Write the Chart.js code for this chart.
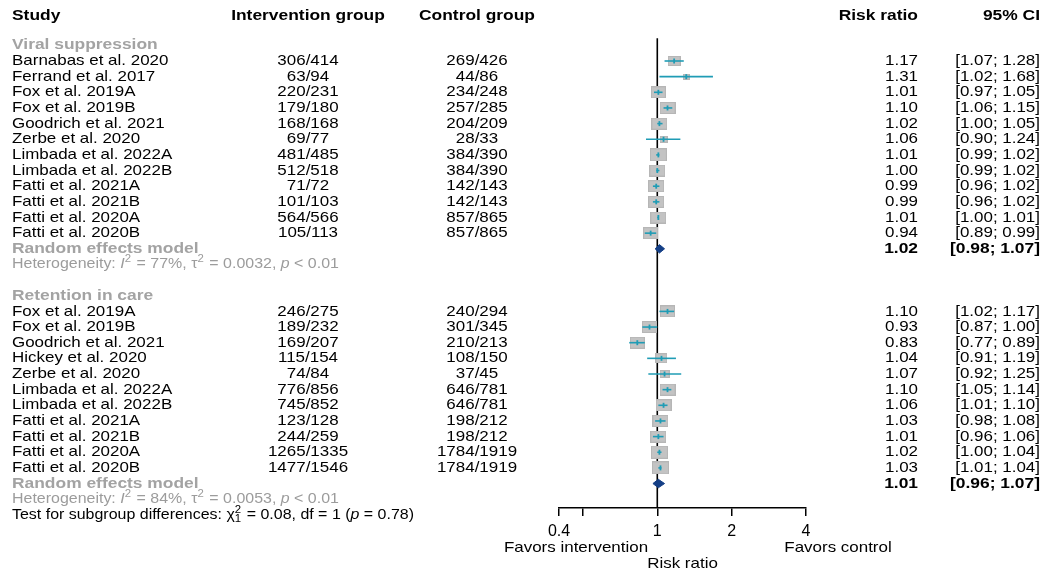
<!DOCTYPE html>
<html><head><meta charset="utf-8">
<script src="https://cdn.jsdelivr.net/npm/chart.js@4.4.0/dist/chart.umd.min.js"></script>
<style>html,body{margin:0;padding:0;background:#fff;}#wrap{position:relative;width:1050px;height:579px;}</style>
</head><body><div id="wrap"><canvas id="c" width="1050" height="579"></canvas></div>
<script>
// ---------- DATA ----------
const vsStudies = ['Barnabas et al. 2020','Ferrand et al. 2017','Fox et al. 2019A','Fox et al. 2019B','Goodrich et al. 2021','Zerbe et al. 2020','Limbada et al. 2022A','Limbada et al. 2022B','Fatti et al. 2021A','Fatti et al. 2021B','Fatti et al. 2020A','Fatti et al. 2020B'];
const vsIntEvents = [306,63,220,179,168,69,481,512,71,101,564,105];
const vsIntTotal  = [414,94,231,180,168,77,485,518,72,103,566,113];
const vsCtlEvents = [269,44,234,257,204,28,384,384,142,142,857,857];
const vsCtlTotal  = [426,86,248,285,209,33,390,390,143,143,865,865];
const vsRR = [1.17,1.31,1.01,1.10,1.02,1.06,1.01,1.00,0.99,0.99,1.01,0.94];
const vsLo = [1.07,1.02,0.97,1.06,1.00,0.90,0.99,0.99,0.96,0.96,1.00,0.89];
const vsHi = [1.28,1.68,1.05,1.15,1.05,1.24,1.02,1.02,1.02,1.02,1.01,0.99];
const vsWeight = [6.6,1.9,8.8,10,10,2.5,11.3,10,10,10,10,8.8];
const vsSummary = [1.02,0.98,1.07];
const vsHet = ['77%','0.0032','< 0.01'];

const rcStudies = ['Fox et al. 2019A','Fox et al. 2019B','Goodrich et al. 2021','Hickey et al. 2020','Zerbe et al. 2020','Limbada et al. 2022A','Limbada et al. 2022B','Fatti et al. 2021A','Fatti et al. 2021B','Fatti et al. 2020A','Fatti et al. 2020B'];
const rcIntEvents = [246,189,169,115,74,776,745,123,244,1265,1477];
const rcIntTotal  = [275,232,207,154,84,856,852,128,259,1335,1546];
const rcCtlEvents = [240,301,210,108,37,646,646,198,198,1784,1784];
const rcCtlTotal  = [294,345,213,150,45,781,781,212,212,1919,1919];
const rcRR = [1.10,0.93,0.83,1.04,1.07,1.10,1.06,1.03,1.01,1.02,1.03];
const rcLo = [1.02,0.87,0.77,0.91,0.92,1.05,1.01,0.98,0.96,1.00,1.01];
const rcHi = [1.17,1.00,0.89,1.19,1.25,1.14,1.10,1.08,1.06,1.04,1.04];
const rcWeight = [8.8,8.8,8.8,5.6,3.9,10,10,10,10,11.3,11.3];
const rcSummary = [1.01,0.96,1.07];
const rcHet = ['84%','0.0053','< 0.01'];

const subgroupTest = ['0.08','1','0.78'];
const xTicks = [0.4,0.5,1,2,4];
const xTickLabels = ['0.4','','1','2','4'];
const groupNames = ['Viral suppression','Retention in care'];
const headers = ['Study','Intervention group','Control group','Risk ratio','95% CI'];

// ---------- LAYOUT ----------
const vsRow0 = 0, rcRow0 = 16;
const rowsVS = vsStudies.map((_, i) => vsRow0 + i);
const rowsRC = rcStudies.map((_, i) => rcRow0 + i);
const vsRE = 12, vsHetRow = 13, rcHead = 15, rcRE = 27, rcHetRow = 28, testRow = 29;
const ROW0_PX = 61, ROW_H = 15.65;

const TEAL = '#1f9cb5', BOX = '#c3c3c3', NAVY = '#143f86', GREY = '#a3a3a3';
const FONT = '"Liberation Sans", Arial, Helvetica, sans-serif';
const SX = 1.13, SXB = 1.16;

function boxCanvas(w) {
  const bw = Math.round(16 * Math.sqrt(w / 10));
  const bh = Math.round(bw * 0.68 + 1.5);
  const c = document.createElement('canvas');
  c.width = bw; c.height = bh;
  const g = c.getContext('2d');
  g.fillStyle = BOX; g.fillRect(0, 0, bw, bh);
  g.strokeStyle = '#b6b6b6'; g.lineWidth = 1; g.strokeRect(0.5, 0.5, bw - 1, bh - 1);
  return c;
}

const allRR = vsRR.concat(rcRR), allLo = vsLo.concat(rcLo), allHi = vsHi.concat(rcHi);
const allRows = rowsVS.concat(rowsRC), allW = vsWeight.concat(rcWeight);

const datasets = [];
datasets.push({data:[{x:1,y:-1.45},{x:1,y:28.56}], showLine:true, borderColor:'#000', borderWidth:1.6, pointRadius:0, order:5});
datasets.push({data: allRR.map((v,i)=>({x:v,y:allRows[i]})), pointStyle: allW.map(boxCanvas), pointRadius:5, order:4});
allRR.forEach((v,i)=>{
  datasets.push({data:[{x:allLo[i],y:allRows[i]},{x:allHi[i],y:allRows[i]}], showLine:true, borderColor:TEAL, borderWidth:1.6, pointRadius:0, order:3});
});
datasets.push({data: allRR.map((v,i)=>({x:v,y:allRows[i]})), pointStyle:'line', rotation:90, pointRadius:2.5, borderColor:TEAL, borderWidth:1.8, order:2});
[[vsSummary,vsRE],[rcSummary,rcRE]].forEach(([s,r])=>{
  const h = 0.27;
  datasets.push({data:[{x:s[1],y:r},{x:s[0],y:r-h},{x:s[2],y:r},{x:s[0],y:r+h},{x:s[1],y:r}], showLine:true, fill:'shape', backgroundColor:NAVY, borderColor:NAVY, borderWidth:1, pointRadius:0, order:1});
});

function txt(ctx, s, x, y, font, color, align, sx) {
  sx = sx || (font.indexOf('bold') >= 0 ? SXB : SX);
  ctx.font = font; ctx.fillStyle = color; ctx.textAlign = 'left'; ctx.textBaseline = 'middle';
  const w = ctx.measureText(s).width * sx;
  let x0 = x;
  if (align === 'center') x0 = x - w / 2; else if (align === 'right') x0 = x - w;
  ctx.save(); ctx.translate(x0, y); ctx.scale(sx, 1); ctx.fillText(s, 0, 0); ctx.restore();
}
function runs(ctx, x, y, parts, color, size, sx) {
  ctx.save(); ctx.translate(x, y); ctx.scale(sx, 1);
  ctx.textBaseline = 'middle'; ctx.textAlign = 'left'; ctx.fillStyle = color;
  let cx = 0;
  for (const p of parts) {
    const [s, kind] = p;
    if (kind === 'sup' || kind === 'supsub') {
      ctx.font = `${Math.round(size*0.7)}px ${FONT}`;
      if (kind === 'supsub') {
        ctx.fillText(s[0], cx, -size*0.36);
        ctx.fillText(s[1], cx, size*0.32);
        cx += ctx.measureText(s[0]).width + 1;
      } else {
        ctx.fillText(s, cx, -size*0.36);
        cx += ctx.measureText(s).width + 1;
      }
    } else {
      ctx.font = `${kind === 'i' ? 'italic ' : ''}${size}px ${FONT}`;
      ctx.fillText(s, cx, 0);
      cx += ctx.measureText(s).width;
    }
  }
  ctx.restore();
}

// keeps row 0 at a fixed pixel with a fixed row height, whatever the chart area
const rowFitPlugin = {
  id: 'rowFit',
  afterLayout(chart) {
    const s = chart.scales.y;
    s.min = -(ROW0_PX - s.top) / ROW_H;
    s.max = (s.bottom - ROW0_PX) / ROW_H;
    s.configure();
  }
};

const textPlugin = {
  id: 'forestText',
  afterDraw(chart) {
    const ctx = chart.ctx, ys = chart.scales.y, xs = chart.scales.x;
    const Y = r => ys.getPixelForValue(r);
    const F = `15px ${FONT}`, FB = `bold 15px ${FONT}`;
    const cStudy = 12, cInt = 308, cCtl = 477, cRR = 918, cCI = 1040;
    ctx.save();
    const hy = Y(-2.9);
    txt(ctx, headers[0], cStudy, hy, FB, '#000');
    txt(ctx, headers[1], cInt, hy, FB, '#000', 'center');
    txt(ctx, headers[2], cCtl, hy, FB, '#000', 'center');
    txt(ctx, headers[3], cRR, hy, FB, '#000', 'right');
    txt(ctx, headers[4], cCI, hy, FB, '#000', 'right');
    const groups = [
      [groupNames[0], vsRow0-1, rowsVS, vsStudies, vsIntEvents, vsIntTotal, vsCtlEvents, vsCtlTotal, vsRR, vsLo, vsHi, vsSummary, vsRE, vsHet, vsHetRow],
      [groupNames[1], rcHead, rowsRC, rcStudies, rcIntEvents, rcIntTotal, rcCtlEvents, rcCtlTotal, rcRR, rcLo, rcHi, rcSummary, rcRE, rcHet, rcHetRow]
    ];
    for (const [name, hr, rows, st, ie, it, ce, ct, rr, lo, hi, sm, rer, het, hetr] of groups) {
      txt(ctx, name, cStudy, Y(hr), FB, GREY);
      rows.forEach((r, i) => {
        const y = Y(r);
        txt(ctx, st[i], cStudy, y, F, '#000');
        txt(ctx, ie[i] + '/' + it[i], cInt, y, F, '#000', 'center');
        txt(ctx, ce[i] + '/' + ct[i], cCtl, y, F, '#000', 'center');
        txt(ctx, rr[i].toFixed(2), cRR, y, F, '#000', 'right');
        txt(ctx, '[' + lo[i].toFixed(2) + '; ' + hi[i].toFixed(2) + ']', cCI, y, F, '#000', 'right');
      });
      const y = Y(rer);
      txt(ctx, 'Random effects model', cStudy, y, FB, GREY);
      txt(ctx, sm[0].toFixed(2), cRR, y, FB, '#000', 'right');
      txt(ctx, '[' + sm[1].toFixed(2) + '; ' + sm[2].toFixed(2) + ']', cCI, y, FB, '#000', 'right');
      runs(ctx, cStudy, Y(hetr), [['Heterogeneity: ','n'],['I','i'],['2','sup'],[' = ' + het[0] + ', ','n'],['\u03c4','n'],['2','sup'],[' = ' + het[1] + ', ','n'],['p','i'],[' ' + het[2],'n']], '#9c9c9c', 14, 1.14);
    }
    runs(ctx, cStudy, Y(testRow), [['Test for subgroup differences: ','n'],['\u03c7','n'],[['2','1'],'supsub'],[' = ' + subgroupTest[0] + ', df = ' + subgroupTest[1] + ' (','n'],['p','i'],[' = ' + subgroupTest[2] + ')','n']], '#000', 14, 1.14);
    txt(ctx, 'Favors intervention', 576, 548, F, '#000', 'center');
    txt(ctx, 'Favors control', 838, 548, F, '#000', 'center');
    txt(ctx, 'Risk ratio', (xs.left + xs.right) / 2, 564, F, '#000', 'center');
    ctx.restore();
  }
};

new Chart(document.getElementById('c'), {
  type: 'scatter',
  data: { datasets },
  plugins: [rowFitPlugin, textPlugin],
  options: {
    responsive: false, animation: false,
    layout: { padding: { left: 559, right: 244, top: 0, bottom: 0 } },
    plugins: { legend: { display: false }, tooltip: { enabled: false } },
    elements: { line: { tension: 0 } },
    datasets: { scatter: { clip: false } },
    scales: {
      x: {
        type: 'logarithmic', min: 0.4, max: 4,
        afterBuildTicks: s => { s.ticks = xTicks.map(v => ({ value: v })); },
        afterFit: s => { s.height = 71; },
        ticks: { callback: (v, i) => xTickLabels[i], color: '#000', font: { size: 16, family: FONT }, padding: 6, maxRotation: 0, autoSkip: false },
        grid: { display: true, drawOnChartArea: false, drawTicks: true, tickLength: 8, color: '#000', lineWidth: 1.5 },
        border: { display: true, color: '#000', width: 1.5 }
      },
      y: { type: 'linear', reverse: true, display: false, bounds: 'data', min: -3.9, max: 28.56 }
    }
  }
});
</script></body></html>
